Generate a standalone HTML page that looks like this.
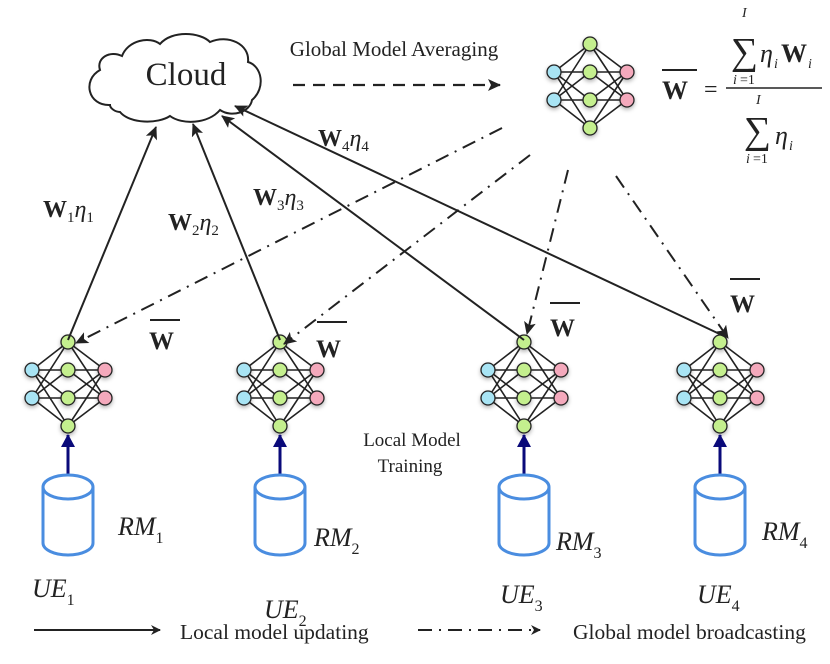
<!DOCTYPE html>
<html><head><meta charset="utf-8"><style>
html,body{margin:0;padding:0;background:#fff;}
svg{display:block;}
text{font-family:"Liberation Serif",serif;fill:#222;}
.b{font-weight:bold;}
.i{font-style:italic;}
</style></head><body>
<svg width="830" height="664" viewBox="0 0 830 664" xmlns="http://www.w3.org/2000/svg">
<defs>
<marker id="ah" markerWidth="10" markerHeight="10" refX="9" refY="5" orient="auto" markerUnits="userSpaceOnUse"><path d="M0,0 L10,5 L0,10 L3,5 z" fill="#222"/></marker>
<marker id="ahb" markerWidth="14" markerHeight="12" refX="12" refY="6" orient="auto" markerUnits="userSpaceOnUse"><path d="M0,0 L13,6 L0,12 L3,6 z" fill="#222"/></marker>
<marker id="ahn" markerWidth="14" markerHeight="14" refX="12" refY="7" orient="auto" markerUnits="userSpaceOnUse"><path d="M0,0 L13,7 L0,14 z" fill="#0a0a7a"/></marker>
<filter id="sh" x="-50%" y="-50%" width="200%" height="200%"><feDropShadow dx="0" dy="2" stdDeviation="2" flood-color="#000" flood-opacity="0.3"/></filter>
<g id="net">
<g stroke="#222" stroke-width="1.6">
<line x1="-36" y1="-15" x2="0" y2="-43"/><line x1="-36" y1="-15" x2="0" y2="-15"/><line x1="-36" y1="-15" x2="0" y2="13"/><line x1="-36" y1="-15" x2="0" y2="41"/>
<line x1="-36" y1="13" x2="0" y2="-43"/><line x1="-36" y1="13" x2="0" y2="-15"/><line x1="-36" y1="13" x2="0" y2="13"/><line x1="-36" y1="13" x2="0" y2="41"/>
<line x1="37" y1="-15" x2="0" y2="-43"/><line x1="37" y1="-15" x2="0" y2="-15"/><line x1="37" y1="-15" x2="0" y2="13"/><line x1="37" y1="-15" x2="0" y2="41"/>
<line x1="37" y1="13" x2="0" y2="-43"/><line x1="37" y1="13" x2="0" y2="-15"/><line x1="37" y1="13" x2="0" y2="13"/><line x1="37" y1="13" x2="0" y2="41"/>
</g>
<g stroke="#222" stroke-width="1.3" filter="url(#sh)">
<circle cx="-36" cy="-15" r="7" fill="#a8e4f4"/><circle cx="-36" cy="13" r="7" fill="#a8e4f4"/>
<circle cx="37" cy="-15" r="7" fill="#f4a9bc"/><circle cx="37" cy="13" r="7" fill="#f4a9bc"/>
<circle cx="0" cy="-43" r="7" fill="#c4ef8e"/><circle cx="0" cy="-15" r="7" fill="#c4ef8e"/><circle cx="0" cy="13" r="7" fill="#c4ef8e"/><circle cx="0" cy="41" r="7" fill="#c4ef8e"/>
</g>
</g>
<g id="cyl" fill="#fff" stroke="#4a8de0" stroke-width="3">
<path d="M-25,-56 L-25,0 A25,12 0 0 0 25,0 L25,-56"/>
<ellipse cx="0" cy="-56" rx="25" ry="12"/>
</g>
</defs>

<!-- cloud -->
<path d="M110,105 C88,106 82,80 100,70 C96,58 110,50 122,56 C128,40 150,36 160,44 C172,30 200,32 210,42 C228,34 250,44 248,62 C262,66 266,88 252,100 C250,112 232,118 220,110 C208,124 182,125 170,116 C158,124 130,124 120,112 C115,112 110,108 110,105 Z" fill="#fff" stroke="#222" stroke-width="2"/>
<text x="186" y="85" font-size="33" text-anchor="middle">Cloud</text>

<!-- top net -->
<use href="#net" x="590" y="87"/>

<!-- Global model averaging -->
<text x="394" y="56" font-size="21" text-anchor="middle">Global Model Averaging</text>
<line x1="293" y1="85" x2="500" y2="85" stroke="#222" stroke-width="2.2" stroke-dasharray="12,8" marker-end="url(#ahb)"/>

<!-- formula -->
<line x1="662" y1="70" x2="697" y2="70" stroke="#222" stroke-width="2"/>
<text x="662" y="99" font-size="26" class="b">W</text>
<text x="704" y="97" font-size="24">=</text>
<line x1="726" y1="88" x2="822" y2="88" stroke="#222" stroke-width="1.5"/>
<text x="742" y="17" font-size="14" class="i">I</text>
<text x="731" y="64" font-size="38">∑</text>
<text x="733" y="84" font-size="14" class="i">i</text><text x="740" y="84" font-size="14">=1</text>
<text x="760" y="62" font-size="26" class="i">η</text><text x="774" y="68" font-size="14" class="i">i</text>
<text x="781" y="62" font-size="26" class="b">W</text><text x="808" y="68" font-size="14" class="i">i</text>
<text x="756" y="104" font-size="14" class="i">I</text>
<text x="744" y="143" font-size="38">∑</text>
<text x="746" y="163" font-size="14" class="i">i</text><text x="753" y="163" font-size="14">=1</text>
<text x="775" y="144" font-size="26" class="i">η</text><text x="789" y="150" font-size="14" class="i">i</text>

<!-- nets -->
<use href="#net" x="68" y="385"/>
<use href="#net" x="280" y="385"/>
<use href="#net" x="524" y="385"/>
<use href="#net" x="720" y="385"/>

<!-- solid upload -->
<g stroke="#222" stroke-width="2" fill="none">
<line x1="68" y1="340" x2="156" y2="127" marker-end="url(#ahb)"/>
<line x1="280" y1="340" x2="193" y2="124" marker-end="url(#ahb)"/>
<line x1="524" y1="340" x2="222" y2="116" marker-end="url(#ahb)"/>
<line x1="726" y1="337" x2="235" y2="106" marker-end="url(#ahb)"/>
</g>
<!-- dash-dot broadcast -->
<g stroke="#222" stroke-width="2" fill="none" stroke-dasharray="14,7,2,7">
<line x1="502" y1="128" x2="76" y2="343" marker-end="url(#ahb)"/>
<line x1="530" y1="155" x2="284" y2="344" marker-end="url(#ahb)"/>
<line x1="568" y1="170" x2="527" y2="334" marker-end="url(#ahb)"/>
<line x1="616" y1="176" x2="728" y2="338" marker-end="url(#ahb)"/>
</g>

<!-- labels W eta -->
<g font-size="24">
<text x="43" y="217"><tspan class="b">W</tspan><tspan font-size="15" dy="5">1</tspan><tspan class="i" dy="-5">η</tspan><tspan font-size="15" dy="5">1</tspan></text>
<text x="168" y="230"><tspan class="b">W</tspan><tspan font-size="15" dy="5">2</tspan><tspan class="i" dy="-5">η</tspan><tspan font-size="15" dy="5">2</tspan></text>
<text x="253" y="205"><tspan class="b">W</tspan><tspan font-size="15" dy="5">3</tspan><tspan class="i" dy="-5">η</tspan><tspan font-size="15" dy="5">3</tspan></text>
<text x="318" y="146"><tspan class="b">W</tspan><tspan font-size="15" dy="5">4</tspan><tspan class="i" dy="-5">η</tspan><tspan font-size="15" dy="5">4</tspan></text>
</g>
<!-- W bars -->
<g stroke="#222" stroke-width="2">
<line x1="150" y1="320" x2="180" y2="320"/>
<line x1="317" y1="322" x2="347" y2="322"/>
<line x1="550" y1="303" x2="580" y2="303"/>
<line x1="730" y1="279" x2="760" y2="279"/>
</g>
<g font-size="25" class="b">
<text x="149" y="349">W</text>
<text x="316" y="357">W</text>
<text x="550" y="336">W</text>
<text x="730" y="312">W</text>
</g>

<text x="412" y="446" font-size="19" text-anchor="middle">Local Model</text>
<text x="410" y="472" font-size="19" text-anchor="middle">Training</text>

<!-- cylinders & arrows -->
<g stroke="#0a0a7a" stroke-width="3">
<line x1="68" y1="487" x2="68" y2="435" marker-end="url(#ahn)"/>
<line x1="280" y1="487" x2="280" y2="435" marker-end="url(#ahn)"/>
<line x1="524" y1="487" x2="524" y2="435" marker-end="url(#ahn)"/>
<line x1="720" y1="487" x2="720" y2="435" marker-end="url(#ahn)"/>
</g>
<use href="#cyl" x="68" y="543"/>
<use href="#cyl" x="280" y="543"/>
<use href="#cyl" x="524" y="543"/>
<use href="#cyl" x="720" y="543"/>

<g font-size="26" class="i">
<text x="118" y="535">RM<tspan font-size="16" dy="8" font-style="normal">1</tspan></text>
<text x="314" y="546">RM<tspan font-size="16" dy="8" font-style="normal">2</tspan></text>
<text x="556" y="550">RM<tspan font-size="16" dy="8" font-style="normal">3</tspan></text>
<text x="762" y="540">RM<tspan font-size="16" dy="8" font-style="normal">4</tspan></text>
<text x="32" y="597">UE<tspan font-size="16" dy="8" font-style="normal">1</tspan></text>
<text x="264" y="618">UE<tspan font-size="16" dy="8" font-style="normal">2</tspan></text>
<text x="500" y="603">UE<tspan font-size="16" dy="8" font-style="normal">3</tspan></text>
<text x="697" y="603">UE<tspan font-size="16" dy="8" font-style="normal">4</tspan></text>
</g>

<!-- legend -->
<line x1="34" y1="630" x2="160" y2="630" stroke="#222" stroke-width="2" marker-end="url(#ah)"/>
<text x="180" y="639" font-size="21.5">Local model updating</text>
<line x1="418" y1="630" x2="540" y2="630" stroke="#222" stroke-width="2" stroke-dasharray="14,7,2,7" marker-end="url(#ah)"/>
<text x="573" y="639" font-size="21.5">Global model broadcasting</text>
</svg>
</body></html>
